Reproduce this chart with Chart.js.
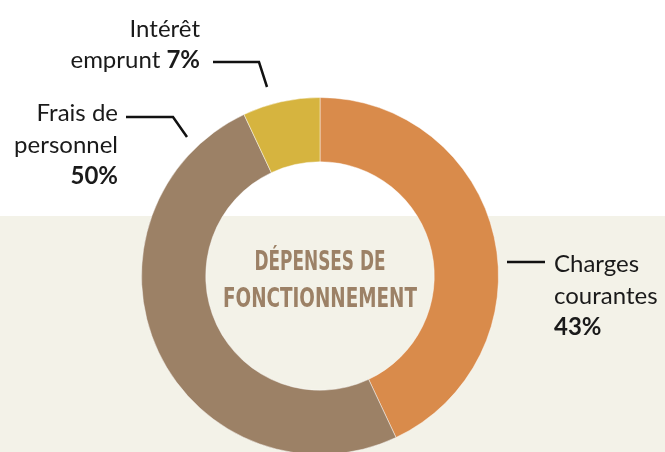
<!DOCTYPE html>
<html>
<head>
<meta charset="utf-8">
<script src="https://cdn.jsdelivr.net/npm/chart.js@4"></script>
<style>
  html, body { margin: 0; padding: 0; overflow: hidden; }
  body { width: 665px; height: 452px; background: linear-gradient(#ffffff 0, #ffffff 216px, #f3f2e8 216px); }
  #wrap { position: relative; width: 665px; height: 458px; }
</style>
</head>
<body>
<div id="wrap"><canvas id="area"></canvas></div>
<script>
// data
const categories = ['Charges courantes', 'Frais de personnel', 'Intérêt emprunt'];
const shares = [43, 50, 7];
const colours = ['#d98b4b', '#9c8166', '#d6b43f'];

// label blocks: lines of text, anchor, leader line points
const labelBlocks = [
  { lines: ['Charges', 'courantes'], x: 554, y: 272, align: 'left',
    leader: [[507, 262], [545, 262]] },
  { lines: ['Frais de', 'personnel'], x: 118, y: 121, align: 'right',
    leader: [[126, 117], [173, 117], [187, 137]] },
  { lines: ['Intérêt', 'emprunt'], x: 200, y: 37, align: 'right', inline: true,
    leader: [[213, 62], [259, 62], [267, 87]] }
];

const labelsPlugin = {
  id: 'labels',
  afterDraw(chart) {
    const ctx = chart.ctx;
    ctx.save();
    ctx.fillStyle = '#1a1a1a';
    ctx.strokeStyle = '#111';
    ctx.lineWidth = 2.5;
    const normal = '24px Lato, "Open Sans", sans-serif';
    const bold = 'bold 24px Lato, "Open Sans", sans-serif';
    labelBlocks.forEach((b, i) => {
      const pct = shares[i] + '%';
      ctx.textAlign = b.align;
      ctx.textBaseline = 'alphabetic';
      ctx.font = normal;
      ctx.fillText(b.lines[0], b.x, b.y);
      if (b.inline) {
        ctx.font = bold;
        const pw = ctx.measureText(pct).width;
        ctx.fillText(pct, b.x, b.y + 31);
        ctx.font = normal;
        ctx.fillText(b.lines[1] + ' ', b.x - pw, b.y + 31);
      } else {
        ctx.fillText(b.lines[1], b.x, b.y + 32);
        ctx.font = bold;
        ctx.fillText(pct, b.x, b.y + 63);
      }
      ctx.beginPath();
      b.leader.forEach((p, k) => k ? ctx.lineTo(p[0], p[1]) : ctx.moveTo(p[0], p[1]));
      ctx.stroke();
    });
    // centre title
    const a = chart.chartArea;
    const cx = (a.left + a.right) / 2;
    ctx.fillStyle = '#9c8166';
    ctx.textAlign = 'center';
    ctx.font = 'bold 26px "Liberation Sans Narrow", "DejaVu Sans Condensed", sans-serif';
    ctx.fillText('DÉPENSES DE', cx, 270, 131);
    ctx.fillText('FONCTIONNEMENT', cx, 307, 194);
    ctx.restore();
  }
};

new Chart(document.getElementById('area'), {
  type: 'doughnut',
  data: {
    labels: categories,
    datasets: [{
      data: shares,
      backgroundColor: colours,
      borderColor: 'rgba(255,255,255,0.45)',
      borderWidth: 1
    }]
  },
  options: {
    responsive: true,
    maintainAspectRatio: false,
    animation: false,
    cutout: '64%',
    layout: { padding: { left: 141, right: 166, top: 97, bottom: 3 } },
    plugins: {
      legend: { display: false },
      tooltip: { enabled: false }
    }
  },
  plugins: [labelsPlugin]
});
</script>
</body>
</html>
